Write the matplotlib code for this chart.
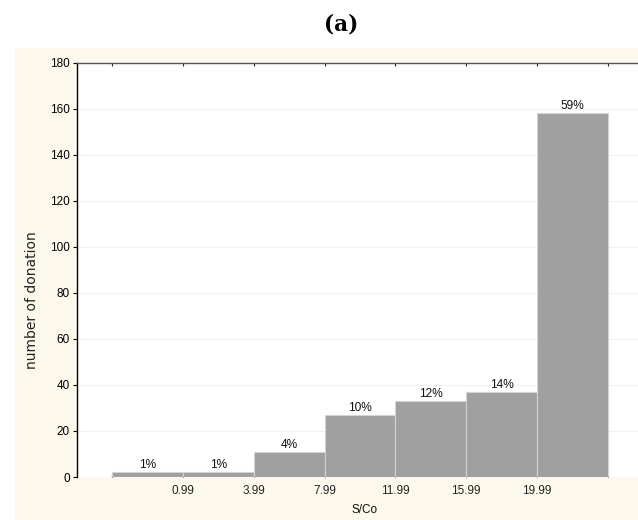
import matplotlib
matplotlib.use("Agg")
import matplotlib.pyplot as plt
from matplotlib.patches import Rectangle

# S/Co class counts
bin_edges = [0, 1, 2, 3, 4, 5, 6, 7]
counts = [2, 2, 11, 27, 33, 37, 158]
percent_labels = ["1%", "1%", "4%", "10%", "12%", "14%", "59%"]
edge_tick_labels = ["", "0.99", "3.99", "7.99", "11.99", "15.99", "19.99", ""]
y_ticks = [0, 20, 40, 60, 80, 100, 120, 140, 160, 180]

plt.rcParams["font.family"] = ["Liberation Sans", "DejaVu Sans"]

W, H = 638, 520
fig = plt.figure(figsize=(W / 100, H / 100), dpi=100, facecolor="white")

# cream panel behind the plot
fig.patches.append(Rectangle((15 / W, 0), 1 - 15 / W, 1 - 48 / H,
                             transform=fig.transFigure, facecolor="#fdf8ec",
                             edgecolor="none", zorder=-5))

left, right = 77, 643
top, bottom = 62.7, 477
ax = fig.add_axes([left / W, (H - bottom) / H, (right - left) / W, (bottom - top) / H])
ax.set_zorder(2)
ax.set_facecolor("white")

ax.bar(bin_edges[:-1], counts, width=1.0, align="edge", color="#a0a0a0",
       edgecolor="#d4d4d4", linewidth=0.8, zorder=3)
for x0, c, lab in zip(bin_edges[:-1], counts, percent_labels):
    ax.text(x0 + 0.5, c + 0.4, lab, ha="center", va="bottom", fontsize=8.6,
            color="#111111", zorder=4)

ax.set_xlim(-0.5, 7.5)
ax.set_ylim(0, 180)
ax.set_yticks(y_ticks)
ax.set_xticks(bin_edges)
ax.set_xticklabels(edge_tick_labels)
ax.yaxis.grid(True, color="#f1f1f1", linewidth=0.8, zorder=0)
ax.set_axisbelow(True)

ax.spines["bottom"].set_visible(False)
ax.spines["right"].set_visible(False)
ax.spines["left"].set_color("black")
ax.spines["left"].set_linewidth(1.0)
ax.spines["top"].set_color("#555555")
ax.spines["top"].set_linewidth(1.0)

ax.tick_params(axis="y", direction="out", length=3, width=0.8, pad=2,
               labelsize=8.5, colors="black")
ax.tick_params(axis="x", direction="in", length=2, width=0.8, pad=6,
               labelsize=8.5, colors="#222222", top=True)

fig.text(32 / W, 1 - 300 / H, "number of donation", rotation=90,
         ha="center", va="center", fontsize=10, color="#222222",
         family="DejaVu Sans")
fig.text(365 / W, 1 - 510 / H, "S/Co", ha="center", va="center",
         fontsize=8.5, color="#111111")
fig.text(341 / W, 1 - 25 / H, "(a)", ha="center", va="center",
         fontsize=15.5, fontweight="bold", family="DejaVu Serif")

fig.savefig("out.png", dpi=100, facecolor="white")
